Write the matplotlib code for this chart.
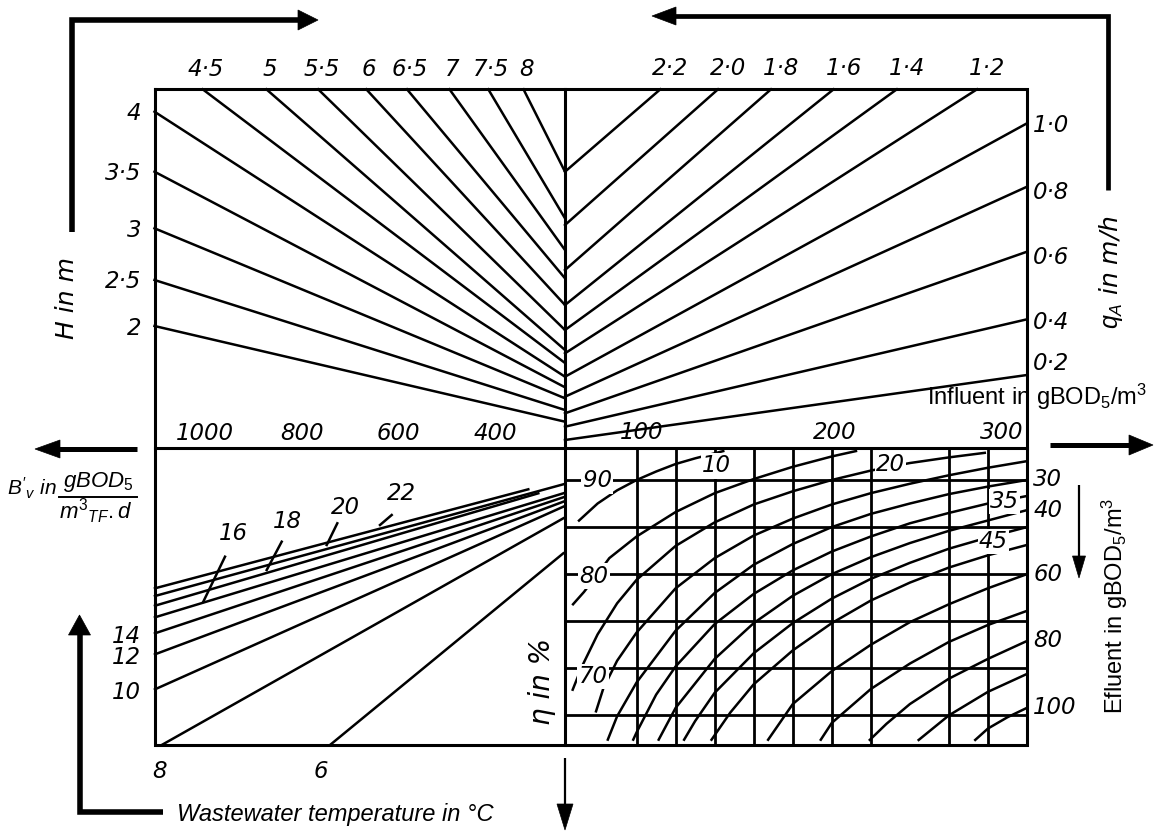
import matplotlib
matplotlib.use("Agg")
import matplotlib.pyplot as plt
import numpy as np
from matplotlib.patches import Polygon

plt.rcParams['mathtext.fontset'] = 'custom'
plt.rcParams['mathtext.rm'] = 'Liberation Sans'
plt.rcParams['mathtext.it'] = 'Liberation Sans:italic'

# ---------------- data ----------------
# upper-left quadrant: rays from the top edge (labels) and from the H scale
top_left_labels = ['4·5', '5', '5·5', '6', '6·5', '7', '7·5', '8']
top_left_start_x = [202.7, 266.4, 318.2, 366.3, 407.0, 449.5, 488.3, 523.5]
top_left_centre_y = [363.0, 350.0, 330.0, 305.0, 278.3, 250.0, 218.3, 171.7]
H_labels = ['4', '3·5', '3', '2·5', '2']
H_start_y = [111.7, 171.7, 228.3, 280.0, 326.0]
H_centre_y = [376.7, 387.3, 398.3, 410.0, 421.7]

# upper-right quadrant: rays from the top edge and from the q_A scale
top_right_labels = ['2·2', '2·0', '1·8', '1·6', '1·4', '1·2']
top_right_start_x = [660.3, 718.0, 771.0, 833.6, 896.8, 977.0]
top_right_centre_y = [171.7, 225.0, 270.0, 305.0, 330.0, 353.3]
qA_labels = ['1·0', '0·8', '0·6', '0·4', '0·2']
qA_start_y = [123.3, 186.7, 251.7, 319.3, 375.0]
qA_centre_y = [376.7, 396.7, 413.3, 426.7, 440.0]

# lower-left quadrant: temperature lines
temp_labels = ['22', '20', '18', '16', '14', '12', '10', '8', '6']
temp_start = [(155, 588.3), (155, 596.0), (155, 605.7), (155, 617.3), (155, 633.3),
              (155, 654.3), (155, 689.3), (161.7, 745), (330, 745)]
temp_end = [(528.3, 489.3), (563.3, 484.3), (538.3, 493.3), (563.3, 493.3), (563.3, 497.3),
            (563.3, 501.7), (563.3, 506.7), (563.3, 518.3), (563.3, 553.3)]
Bv_ticks = [1000, 800, 600, 400]
influent_ticks = [100, 200, 300]

# lower-right quadrant: efficiency (%) vs influent for constant effluent
eta_ticks = [90, 80, 70]
eta_grid = [90, 85, 80, 75, 70, 65]
influent_grid = [100, 120, 140, 160, 180, 200, 220, 260, 280]
effluent = [10, 15, 20, 25, 30, 35, 40, 45, 50, 60, 70, 80, 90, 100]
curve_influent = [
    [70, 80, 90, 100, 110, 120, 130, 145],
    [67, 73, 80, 86, 100, 120, 140, 160, 180, 200, 213],
    [67, 72, 80, 90, 100, 120, 140, 160, 180, 200, 220, 240, 260, 279],
    [79, 83, 90, 100, 120, 140, 160, 180, 200, 220, 240, 260, 280, 300],
    [85, 90, 100, 120, 140, 160, 180, 200, 220, 240, 260, 280, 300],
    [98, 100, 110, 120, 140, 160, 180, 200, 220, 240, 260, 280, 300],
    [111, 120, 140, 160, 180, 200, 220, 240, 260, 280, 300],
    [124, 130, 140, 160, 180, 200, 220, 240, 260, 280, 300],
    [138, 148, 160, 180, 200, 220, 240, 260, 280, 300],
    [167, 180, 200, 220, 240, 260, 280, 300],
    [194, 200, 220, 240, 260, 280, 300],
    [219, 228, 240, 260, 280, 300],
    [244, 260, 280, 300],
    [273, 280, 290, 300],
]
curve_eta = [
    [85.6, 87.5, 88.9, 90.0, 90.9, 91.7, 92.3, 93.1],
    [76.7, 78.1, 80.0, 81.7, 84.0, 86.6, 88.6, 90.1, 91.4, 92.5, 93.1],
    [67.6, 70.2, 73.6, 76.9, 79.4, 83.0, 85.5, 87.4, 88.8, 90.0, 91.0, 91.8, 92.4, 92.9],
    [65.3, 67.9, 70.8, 73.8, 78.5, 81.7, 84.1, 85.9, 87.4, 88.6, 89.6, 90.5, 91.3, 92.0],
    [62.3, 64.9, 68.5, 74.0, 78.0, 81.0, 83.2, 85.0, 86.4, 87.5, 88.5, 89.3, 90.0],
    [62.3, 63.2, 67.2, 70.2, 74.7, 77.9, 80.4, 82.4, 84.0, 85.4, 86.5, 87.5, 88.3],
    [62.3, 65.8, 71.0, 74.8, 77.7, 80.0, 81.8, 83.3, 84.6, 85.7, 86.8],
    [62.3, 64.4, 67.4, 71.6, 74.8, 77.4, 79.5, 81.2, 82.7, 83.9, 85.0],
    [62.3, 65.3, 68.3, 71.9, 74.8, 77.2, 79.1, 80.7, 82.0, 83.1],
    [62.3, 66.2, 69.7, 72.5, 74.9, 76.8, 78.5, 80.0],
    [62.3, 64.2, 67.8, 70.5, 72.8, 74.6, 76.1],
    [62.3, 64.1, 66.2, 68.9, 71.0, 72.9],
    [62.3, 65.0, 67.5, 69.4],
    [62.3, 63.6, 64.8, 65.8],
]
right_labelled = [30, 40, 60, 80, 100]
inner_labels = ['10', '20', '35', '45']
inner_label_pos = [(140.9, 91.5), (230, 91.6), (288.4, 87.7), (282.8, 83.5)]

# ---------------- layout ----------------
W, H = 1160, 834
fig = plt.figure(figsize=(W / 100, H / 100), dpi=100)
ax = fig.add_axes([0, 0, 1, 1])
ax.set_xlim(0, W)
ax.set_ylim(H, 0)
ax.axis('off')

XL, XC, XR = 154.5, 565.0, 1027.0
YT, YM, YB = 89.3, 447.5, 745.0
LW_FRAME = 2.2
LW_LINE = 1.8
K = 'black'
DIG = dict(family='DejaVu Sans', style='italic', size=16.5, color=K)

# frame
ax.plot([XL, XR, XR, XL, XL], [YT, YT, YB, YB, YT], color=K, lw=LW_FRAME, solid_joinstyle='miter')
ax.plot([XL, XR], [YM, YM], color=K, lw=LW_FRAME)
ax.plot([XC, XC], [YT, YB], color=K, lw=LW_FRAME)

# upper-left rays
for lab, sx, cy in zip(top_left_labels, top_left_start_x, top_left_centre_y):
    ax.plot([sx, XC], [YT, cy], color=K, lw=LW_LINE)
    ax.text(sx + 3, 69, lab, ha='center', va='center', **DIG)
for lab, sy, cy in zip(H_labels, H_start_y, H_centre_y):
    ax.plot([XL, XC], [sy, cy], color=K, lw=LW_LINE)
    ax.text(141, sy + 2, lab, ha='right', va='center', **DIG)

# upper-right rays
for lab, sx, cy in zip(top_right_labels, top_right_start_x, top_right_centre_y):
    ax.plot([sx, XC], [YT, cy], color=K, lw=LW_LINE)
    ax.text(sx + 10, 68, lab, ha='center', va='center', **DIG)
qA_label_y = [125, 192, 257, 322, 363]
for lab, sy, cy, ly in zip(qA_labels, qA_start_y, qA_centre_y, qA_label_y):
    ax.plot([XR, XC], [sy, cy], color=K, lw=LW_LINE)
    ax.text(1033, ly, lab, ha='left', va='center', **DIG)

# lower-left temperature lines
for (x0, y0), (x1, y1) in zip(temp_start, temp_end):
    ax.plot([x0, x1], [y0, y1], color=K, lw=LW_LINE)
for lab, (x0, y0) in zip(temp_labels[4:7], temp_start[4:7]):
    ax.text(141, y0 + 3, lab, ha='right', va='center', **DIG)
leader_lab_pos = [(401, 493), (345, 508), (287.5, 521), (233, 534)]
leader_lines = [((391.7, 515), (380, 525)), ((337.3, 523.3), (326.7, 545)),
                ((281.7, 541.7), (266.7, 570)), ((225, 556.7), (203.3, 601.7))]
for lab, (lx, ly), (p, q) in zip(temp_labels[:4], leader_lab_pos, leader_lines):
    ax.text(lx, ly, lab, ha='center', va='center', **DIG)
    ax.plot([p[0], q[0]], [p[1], q[1]], color=K, lw=LW_LINE)
for lab, (x0, y0), dx in zip(temp_labels[7:], temp_start[7:], [-2, -9]):
    ax.text(x0 + dx, 771.5, lab, ha='center', va='center', **DIG)

# B'v scale along middle line
for b in Bv_ticks:
    ax.text(495 + (400 - b) * 0.483, 433, str(b), ha='center', va='center', **DIG)
for v, lx in zip(influent_ticks, [642, 835, 1002]):
    ax.text(lx, 432, str(v), ha='center', va='center', **DIG)

# ---------------- lower-right panel on its own scales ----------------
ax2 = fig.add_axes([XC / W, 1 - YB / H, (XR - XC) / W, (YB - YM) / H])
ax2.set_xlim(63.3, 300)
ax2.set_ylim(61.85, 93.45)
ax2.axis('off')
ax2.patch.set_alpha(0)
for g in influent_grid:
    ax2.plot([g, g], [61.85, 93.45], color=K, lw=2.0, solid_capstyle='butt')
for g in eta_grid:
    ax2.plot([63.3, 300], [g, g], color=K, lw=2.0, solid_capstyle='butt')
for ce, xs, ys in zip(effluent, curve_influent, curve_eta):
    ax2.plot(xs, ys, color=K, lw=LW_LINE, solid_joinstyle='round', solid_capstyle='butt')
    if ce in right_labelled:
        ax2.annotate(str(ce), (xs[-1], ys[-1]), xytext=(4.5, 0), textcoords='offset points',
                     ha='left', va='center', annotation_clip=False, **DIG)
wb = dict(boxstyle='square,pad=0.05', fc='white', ec='none')
for lab, (x, y) in zip(inner_labels, inner_label_pos):
    ax2.text(x, y, lab, ha='center', va='center', bbox=wb, **DIG)
for t, x, y in zip(eta_ticks, [79.7, 78.1, 77.6], [89.9, 79.8, 69.1]):
    ax2.text(x, y, str(t), ha='center', va='center', bbox=wb, **DIG)

# ---------------- axis titles ----------------
TIT = dict(family='DejaVu Sans', style='italic', color=K)
ax.text(66.6, 298, 'H in m', rotation=90, ha='center', va='center', size=18, **TIT)
ax.text(1111, 272, r'$q_A$ in m/h', rotation=90, ha='center', va='center', size=18, **TIT)
ax.text(542, 681, 'η in %', rotation=90, ha='center', va='center', size=20, **TIT)
ax.text(927, 397, r'Influent in gBOD$_5$/m$^3$', family='Liberation Sans', size=17,
        ha='left', va='center', color=K)
ax.text(1115, 606, r'Efluent in gBOD$_5$/m$^3$', family='Liberation Sans', size=17,
        rotation=90, ha='center', va='center', color=K)
ax.text(177, 815, 'Wastewater temperature in °C', family='Liberation Sans', style='italic',
        size=17, ha='left', va='center', color=K)
ax.text(7, 488, r"$B'_{v}$ in", family='Liberation Sans', style='italic', size=15,
        ha='left', va='center', color=K)
ax.text(98, 482, r'$gBOD_5$', size=16, ha='center', va='center', color=K)
ax.plot([59, 137], [496.7, 496.7], color=K, lw=1.4)
ax.text(59, 511, r'$m^3{}_{TF}.d$', size=16, ha='left', va='center', color=K)


# ---------------- arrows ----------------
def arrow(pts, lw, hl, hw):
    pts = np.asarray(pts, float)
    tip, prev = pts[-1], pts[-2]
    d = (tip - prev) / np.hypot(*(tip - prev))
    n = np.array([-d[1], d[0]])
    base = tip - d * hl
    line = np.vstack([pts[:-1], base + d * 2])
    ax.plot(line[:, 0], line[:, 1], color=K, lw=lw, solid_capstyle='butt', solid_joinstyle='miter')
    ax.add_patch(Polygon([tip, base + n * hw / 2, base - n * hw / 2], closed=True, fc=K, ec=K, lw=0.5))


arrow([(71.5, 232), (71.5, 20), (318, 20)], 4.0, 20, 20)
arrow([(1108, 190), (1108, 16), (652, 16)], 3.4, 24, 18)
arrow([(137, 449), (35, 449)], 3.6, 25, 18)
arrow([(1050, 445), (1153, 445)], 3.6, 24, 20)
arrow([(1079, 485), (1079, 578)], 1.6, 22, 13)
arrow([(163, 812), (79.5, 812), (79.5, 615)], 4.0, 20, 22)
arrow([(565, 758), (565, 830)], 1.6, 26, 16)

fig.savefig('out.png', dpi=100)
